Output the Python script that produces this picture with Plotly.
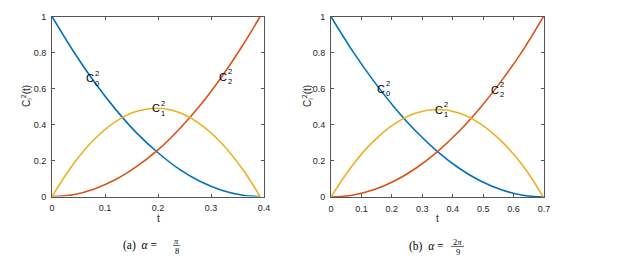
import plotly.graph_objects as go

# ---- data ----
t_a = [0, 0.04, 0.08, 0.12, 0.16, 0.20, 0.24, 0.28, 0.32, 0.36, 0.3927]
c0_a = [1.0, 0.808, 0.636, 0.484, 0.352, 0.243, 0.152, 0.083, 0.035, 0.007, 0.0]
c1_a = [0.0, 0.179, 0.318, 0.416, 0.473, 0.490, 0.466, 0.401, 0.296, 0.150, 0.0]
c2_a = [0.0, 0.010, 0.042, 0.094, 0.167, 0.259, 0.374, 0.508, 0.664, 0.840, 1.0]

t_b = [0, 0.07, 0.14, 0.21, 0.28, 0.35, 0.42, 0.49, 0.56, 0.63, 0.6981]
c0_b = [1.0, 0.812, 0.644, 0.494, 0.363, 0.252, 0.161, 0.090, 0.040, 0.010, 0.0]
c1_b = [0.0, 0.175, 0.310, 0.407, 0.466, 0.485, 0.466, 0.407, 0.310, 0.175, 0.0]
c2_b = [0.0, 0.010, 0.040, 0.090, 0.161, 0.252, 0.363, 0.494, 0.644, 0.812, 1.0]

xticks_a = [0, 0.1, 0.2, 0.3, 0.4]
xticks_b = [0, 0.1, 0.2, 0.3, 0.4, 0.5, 0.6, 0.7]
yticks = [0, 0.2, 0.4, 0.6, 0.8, 1]

BLUE, ORANGE, YELLOW = "#0072BD", "#D95319", "#EDB120"
OFF = 8            # page body margin
W, H = 606, 249    # figure size so that it fits inside the 622x265 window

fig = go.Figure()
for (t, c0, c1, c2, xa, ya) in [(t_a, c0_a, c1_a, c2_a, "x", "y"),
                                (t_b, c0_b, c1_b, c2_b, "x2", "y2")]:
    for c, col in [(c0, BLUE), (c2, ORANGE), (c1, YELLOW)]:
        fig.add_trace(go.Scatter(x=t, y=c, mode="lines", xaxis=xa, yaxis=ya,
                                 line=dict(color=col, width=1.6, shape="spline", smoothing=1),
                                 showlegend=False, hoverinfo="skip"))

def px2x(px):
    return (px - OFF) / W

def py2y(py):
    return (H - (py - OFF)) / H

axis_common = dict(showline=True, linecolor="#555555", linewidth=1, mirror="ticks",
                   ticks="inside", ticklen=3, tickcolor="#555555", showgrid=False,
                   zeroline=False, tickfont=dict(family="Liberation Sans", size=9, color="#262626"),
                   ticklabelstandoff=3)

fig.update_layout(
    width=W, height=H, margin=dict(l=0, r=0, t=0, b=0, autoexpand=False),
    paper_bgcolor="white", plot_bgcolor="white",
    xaxis=dict(domain=[px2x(52), px2x(264)], range=[0, 0.4], tickvals=xticks_a,
               ticktext=[f"{v:g}" for v in xticks_a], anchor="y", **axis_common),
    yaxis=dict(domain=[py2y(196.5), py2y(16.5)], range=[0, 1], tickvals=yticks,
               ticktext=[f"{v:g}" for v in yticks], anchor="x", **axis_common),
    xaxis2=dict(domain=[px2x(331), px2x(544)], range=[0, 0.7], tickvals=xticks_b,
                ticktext=[f"{v:g}" for v in xticks_b], anchor="y2", **axis_common),
    yaxis2=dict(domain=[py2y(197), py2y(16.7)], range=[0, 1], tickvals=yticks,
                ticktext=[f"{v:g}" for v in yticks], anchor="x2", **axis_common),
)

ann = []
lab_font = dict(family="Liberation Sans", size=11, color="black")
sm_font = dict(family="Liberation Sans", size=7.5, color="black")

def clabel(xref, yref, x, y, idx):
    ann.append(dict(x=x, y=y, xref=xref, yref=yref, text="C", showarrow=False,
                    xanchor="right", yanchor="middle", font=lab_font, borderpad=0))
    ann.append(dict(x=x, y=y, xref=xref, yref=yref, text=f"2<br>{idx}", showarrow=False,
                    xanchor="left", yanchor="middle", font=sm_font, borderpad=0, align="left",
                    xshift=-1))

clabel("x", "y", 0.081, 0.658, 0)
clabel("x", "y", 0.2057, 0.49, 1)
clabel("x", "y", 0.332, 0.664, 2)
clabel("x2", "y2", 0.181, 0.60, 0)
clabel("x2", "y2", 0.371, 0.483, 1)
clabel("x2", "y2", 0.555, 0.594, 2)

# axis titles
tick_font = dict(family="Liberation Sans", size=10, color="#262626")
for xp in [27, 308]:
    ann.append(dict(x=px2x(xp), y=py2y(96), xref="paper", yref="paper",
                    text="C<sub>i</sub><sup>2</sup>(t)", textangle=-90, showarrow=False,
                    xanchor="center", yanchor="middle", font=tick_font))
for xp in [158, 437.5]:
    ann.append(dict(x=px2x(xp), y=py2y(218), xref="paper", yref="paper", text="t",
                    showarrow=False, xanchor="center", yanchor="middle", font=tick_font))

# captions
serif = dict(family="Liberation Serif", size=11.5, color="black")
serif_sm = dict(family="Liberation Serif", size=8.5, color="black")
ann.append(dict(x=px2x(159), y=py2y(245), xref="paper", yref="paper",
                text="(a)  <i>α</i> =", showarrow=False, xanchor="right", yanchor="middle", font=serif))
ann.append(dict(x=px2x(176.5), y=py2y(240.5), xref="paper", yref="paper",
                text="<i>π</i>", showarrow=False, xanchor="center", yanchor="middle", font=serif_sm))
ann.append(dict(x=px2x(176.5), y=py2y(250.5), xref="paper", yref="paper",
                text="8", showarrow=False, xanchor="center", yanchor="middle", font=serif_sm))
ann.append(dict(x=px2x(446), y=py2y(246), xref="paper", yref="paper",
                text="(b)  <i>α</i> =", showarrow=False, xanchor="right", yanchor="middle", font=serif))
ann.append(dict(x=px2x(457.5), y=py2y(241.5), xref="paper", yref="paper",
                text="2<i>π</i>", showarrow=False, xanchor="center", yanchor="middle", font=serif_sm))
ann.append(dict(x=px2x(457.5), y=py2y(251.5), xref="paper", yref="paper",
                text="9", showarrow=False, xanchor="center", yanchor="middle", font=serif_sm))

fig.update_layout(annotations=ann)
fig.add_shape(type="line", xref="paper", yref="paper", x0=px2x(173), x1=px2x(180),
              y0=py2y(245.5), y1=py2y(245.5), line=dict(color="black", width=0.6))
fig.add_shape(type="line", xref="paper", yref="paper", x0=px2x(451), x1=px2x(464),
              y0=py2y(246.5), y1=py2y(246.5), line=dict(color="black", width=0.6))

fig.write_html("out.html")
